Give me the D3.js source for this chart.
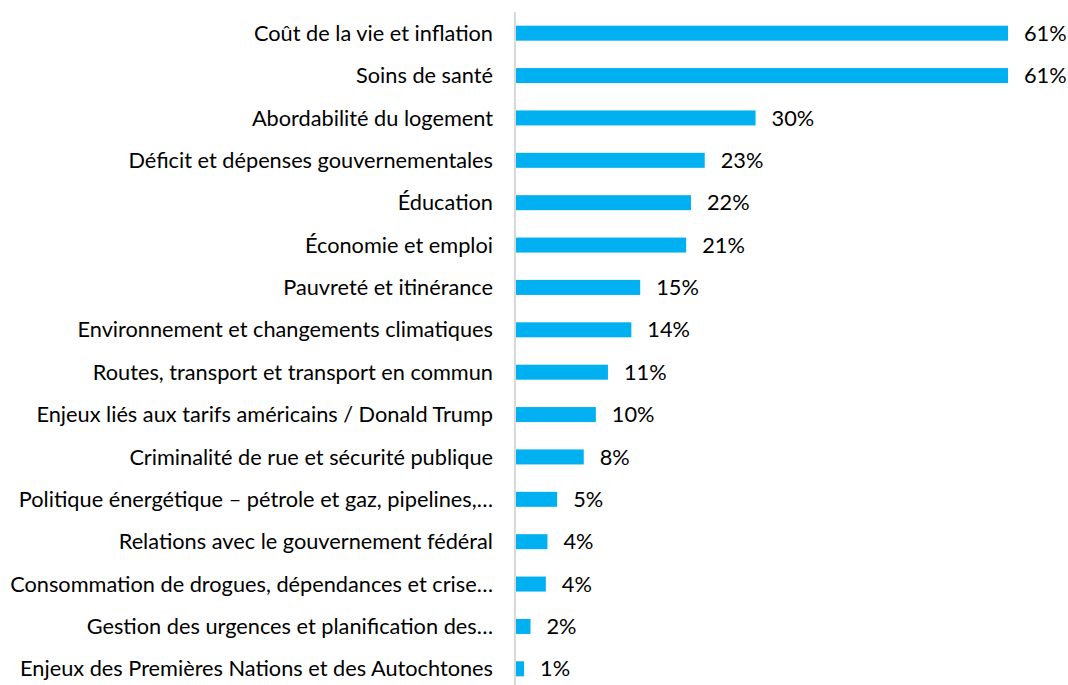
<!DOCTYPE html>
<html>
<head>
<meta charset="utf-8">
<script src="https://cdn.jsdelivr.net/npm/d3@7"></script>
<style>
  html, body { margin: 0; padding: 0; background: #fff; }
  svg { display: block; }
  text { font-family: "Lato", "Liberation Sans", sans-serif; fill: #000; }
</style>
</head>
<body>
<svg id="chart" width="1068" height="685"></svg>
<script>
// issues, top to bottom
const categories = [
  "Coût de la vie et inflation",
  "Soins de santé",
  "Abordabilité du logement",
  "Déficit et dépenses gouvernementales",
  "Éducation",
  "Économie et emploi",
  "Pauvreté et itinérance",
  "Environnement et changements climatiques",
  "Routes, transport et transport en commun",
  "Enjeux liés aux tarifs américains / Donald Trump",
  "Criminalité de rue et sécurité publique",
  "Politique énergétique – pétrole et gaz, pipelines,…",
  "Relations avec le gouvernement fédéral",
  "Consommation de drogues, dépendances et crise…",
  "Gestion des urgences et planification des…",
  "Enjeux des Premières Nations et des Autochtones"
];
// share (%); labels show them rounded
const values = [61, 61, 29.7, 23.4, 21.7, 21.1, 15.4, 14.3, 11.4, 9.9, 8.4, 5.1, 3.9, 3.7, 1.8, 1.0];

const svg = d3.select("#chart");
const fontSize = 19;

const x = d3.scaleLinear().domain([0, 61]).range([516, 1008]);
const y = d3.scaleBand()
  .domain(categories)
  .range([12, 690])
  .paddingInner(0.646)
  .paddingOuter(0.323);

// axis line
svg.append("line")
  .attr("x1", 515).attr("x2", 515)
  .attr("y1", 12).attr("y2", 685)
  .attr("stroke", "#D9D9D9")
  .attr("stroke-width", 2);

// bars
svg.selectAll("rect.bar")
  .data(values)
  .join("rect")
  .attr("class", "bar")
  .attr("x", x(0))
  .attr("y", (d, i) => y(categories[i]))
  .attr("width", d => x(d) - x(0))
  .attr("height", y.bandwidth())
  .attr("fill", "#00B0F0");

// category labels
const labels = svg.selectAll("text.cat")
  .data(categories)
  .join("text")
  .attr("class", "cat")
  .attr("x", 493)
  .attr("y", d => y(d) + y.bandwidth() / 2)
  .attr("dy", "0.35em")
  .attr("text-anchor", "end")
  .style("font-size", fontSize + "px")
  .text(d => d);

// shrink/grow the font so the longest label spans like the original (~483px)
let maxW = 0;
labels.each(function () { maxW = Math.max(maxW, this.getComputedTextLength()); });
const fs = fontSize * 483 / maxW;
labels.style("font-size", fs + "px");

// value labels
svg.selectAll("text.val")
  .data(values)
  .join("text")
  .attr("class", "val")
  .attr("x", d => x(d) + 16)
  .attr("y", (d, i) => y(categories[i]) + y.bandwidth() / 2)
  .attr("dy", "0.35em")
  .style("font-size", fs + "px")
  .text(d => Math.round(d) + "%");
</script>
</body>
</html>
